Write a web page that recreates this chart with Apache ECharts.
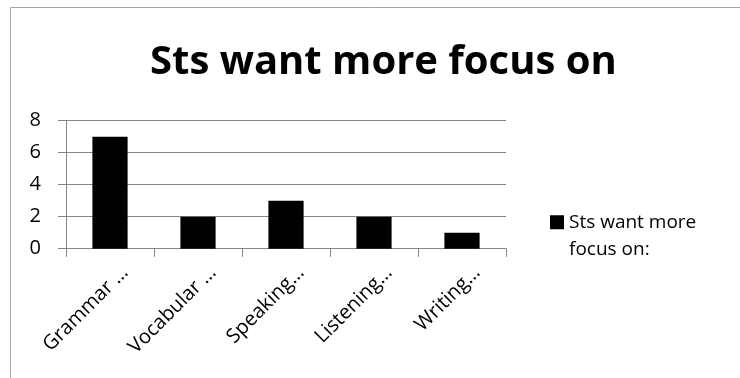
<!DOCTYPE html>
<html><head><meta charset="utf-8">
<script src="https://cdn.jsdelivr.net/npm/echarts@6/dist/echarts.min.js"></script>
<style>html,body{margin:0;padding:0;background:#fff}#c{width:740px;height:378px}</style>
</head><body><div id="c"></div>
<script>
var categories = ['Grammar …', 'Vocabular …', 'Speaking…', 'Listening…', 'Writing…'];
var values = [7, 2, 3, 2, 1];
var seriesName = 'Sts want more focus on:';
var legendLines = ['Sts want more', 'focus on:'];
var titleText = 'Sts want more focus on';
var FONT = '"Open Sans", "Liberation Sans", sans-serif';
var chart = echarts.init(document.getElementById('c'));
chart.setOption({
  animation: false,
  backgroundColor: '#fff',
  graphic: [{type:'rect', shape:{x:10.5,y:7.5,width:760,height:420}, style:{fill:'none',stroke:'#a6a6a6',lineWidth:1}, silent:true}],
  title: {text: titleText, left: 150, top: 43, padding:0, textStyle:{fontFamily:FONT, fontWeight:'bold', fontSize:40, color:'#000'}},
  legend: {left: 550, top: 181, padding:0, orient:'vertical', itemWidth:14, itemHeight:14, itemGap:0,
    icon:'rect',
    formatter: function(){ return '\n' + legendLines.join('\n'); },
    textStyle:{fontFamily:FONT, fontSize:19, color:'#000', lineHeight:27.5},
    data:[{name:seriesName, itemStyle:{color:'#000'}}]},
  grid: {left:66, right:234, top:120.7, bottom:129.3, containLabel:false},
  xAxis: {type:'category', data:categories,
    axisLine:{lineStyle:{color:'#868686'}},
    axisTick:{show:true, length:8, lineStyle:{color:'#868686'}},
    axisLabel:{rotate:45, fontFamily:FONT, fontSize:20, color:'#000', margin:6,
      align:'right', verticalAlign:'top', padding:[11,0,0,0]}},
  yAxis: {type:'value', min:0, max:8, interval:2,
    axisLine:{show:true, lineStyle:{color:'#868686'}},
    axisTick:{show:true, length:8, lineStyle:{color:'#868686'}},
    splitLine:{lineStyle:{color:'#868686'}},
    axisLabel:{fontFamily:FONT, fontSize:20, color:'#000', margin:25}},
  series: [{type:'bar', name:seriesName, data:values, barWidth:'40%', itemStyle:{color:'#000'}}]
});
</script></body></html>
